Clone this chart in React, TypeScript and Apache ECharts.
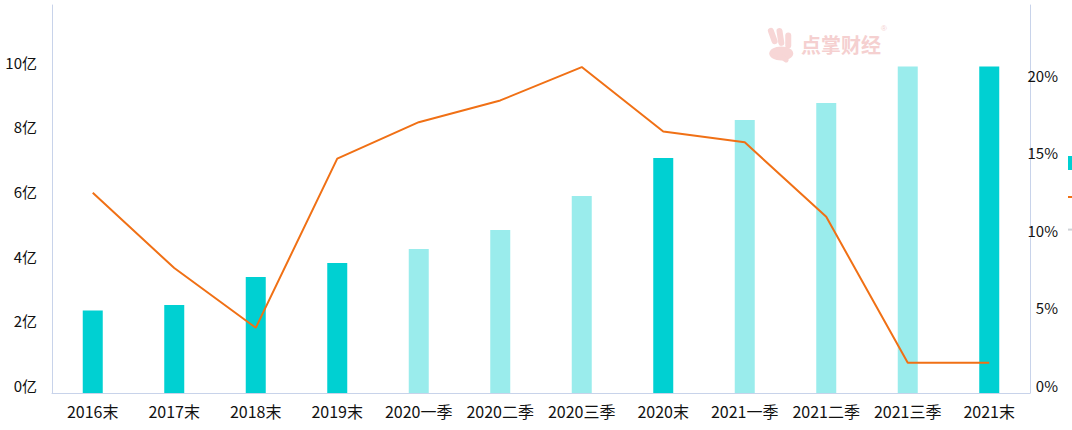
import React, { useEffect, useRef } from "react";
import * as echarts from "echarts";

const categories = ["2016末", "2017末", "2018末", "2019末", "2020一季", "2020二季", "2020三季", "2020末", "2021一季", "2021二季", "2021三季", "2021末"];
const revenue = [2.55, 2.72, 3.59, 4.02, 4.45, 5.04, 6.09, 7.27, 8.44, 8.97, 10.1, 10.1];
const growthRate = [12.9, 8.05, 4.2, 15.1, 17.45, 18.85, 21.0, 16.85, 16.15, 11.35, 1.95, 1.95];
const leftTicks = { min: 0, max: 12, interval: 2 };
const rightTicks = { min: 0, max: 25, interval: 5 };
const seriesNames = ["营业收入", "增长率", "同比"];

const DARK = "#00D0D2";
const LIGHT = "#9AECEC";

export default function App() {
  const ref = useRef<HTMLDivElement>(null);
  useEffect(() => {
    if (!ref.current) return;
    const chart = echarts.init(ref.current, null, { renderer: "svg" });
    const axisLineStyle = { lineStyle: { color: "#C8D3EA", width: 1 } };
    chart.setOption({
      animation: false,
      grid: { left: 52, right: 42, top: 5, bottom: 37 },
      legend: {
        orient: "vertical",
        left: 1067,
        top: 156,
        padding: 0,
        itemGap: 20,
        itemWidth: 25,
        itemHeight: 14,
        data: [
          { name: seriesNames[0], icon: "rect" },
          { name: seriesNames[1] },
          { name: seriesNames[2] },
        ],
        selected: { [seriesNames[2]]: false },
        inactiveColor: "#C8C8C8",
        formatter: () => "",
        textStyle: { fontSize: 14 },
      },
      graphic: [
        {
          type: "group",
          left: 767,
          top: 27,
          children: [
            { type: "rect", shape: { x: 4, y: 0, width: 6, height: 17, r: 3 }, rotation: 0.35, style: { fill: "#F7D6D6" } },
            { type: "rect", shape: { x: 13, y: 0, width: 6, height: 18, r: 3 }, rotation: 0.15, style: { fill: "#F7D6D6" } },
            { type: "rect", shape: { x: 22, y: 2, width: 6, height: 16, r: 3 }, style: { fill: "#F7D6D6" } },
            { type: "ellipse", shape: { cx: 18, cy: 23, rx: 12, ry: 7 }, style: { fill: "#F7D6D6" } },
            { type: "rect", shape: { x: 26, y: 9, width: 12, height: 5, r: 2.5 }, rotation: -0.6, style: { fill: "#F7D6D6" } },
          ],
        },
        {
          type: "text",
          left: 801,
          top: 34,
          style: { text: "点掌财经", fill: "#F5D0D0", font: "bold 20px 'Noto Sans CJK SC'" },
        },
        {
          type: "text",
          left: 881,
          top: 24,
          style: { text: "®", fill: "#F5D0D0", font: "8px sans-serif" },
        },
      ],
      xAxis: {
        type: "category",
        data: categories,
        axisLine: axisLineStyle,
        axisTick: { show: false },
        axisLabel: { color: "#111", fontSize: 16, margin: 10, fontFamily: "'Noto Sans CJK SC', sans-serif", interval: 0 },
      },
      yAxis: [
        {
          type: "value",
          ...leftTicks,
          axisLine: { show: true, ...axisLineStyle },
          axisTick: { show: false },
          splitLine: { show: false },
          axisLabel: {
            color: "#111",
            fontSize: 15,
            margin: 15,
            verticalAlign: "bottom",
            showMaxLabel: false,
            formatter: "{value}亿",
            fontFamily: "'Noto Sans CJK SC', sans-serif",
          },
        },
        {
          type: "value",
          ...rightTicks,
          position: "right",
          axisLine: { show: true, ...axisLineStyle },
          axisTick: { show: false },
          splitLine: { show: false },
          axisLabel: {
            color: "#111",
            fontSize: 15,
            margin: 28,
            align: "right",
            verticalAlign: "bottom",
            showMaxLabel: false,
            formatter: "{value}%",
            fontFamily: "'Noto Sans CJK SC', sans-serif",
          },
        },
      ],
      series: [
        {
          name: seriesNames[0],
          type: "bar",
          barWidth: 20,
          itemStyle: { color: DARK },
          data: revenue.map((v, i) => ({
            value: v,
            itemStyle: { color: categories[i].endsWith("末") ? DARK : LIGHT },
          })),
        },
        {
          name: seriesNames[1],
          type: "line",
          yAxisIndex: 1,
          symbol: "none",
          lineStyle: { color: "#F07015", width: 2 },
          itemStyle: { color: "#F07015" },
          data: growthRate,
        },
        {
          name: seriesNames[2],
          type: "line",
          yAxisIndex: 1,
          symbol: "none",
          lineStyle: { color: "#999" },
          itemStyle: { color: "#999" },
          data: [],
        },
      ],
    });
    return () => chart.dispose();
  }, []);
  return <div ref={ref} style={{ width: 1072, height: 430, position: "absolute", left: 0, top: 0 }} />;
}
